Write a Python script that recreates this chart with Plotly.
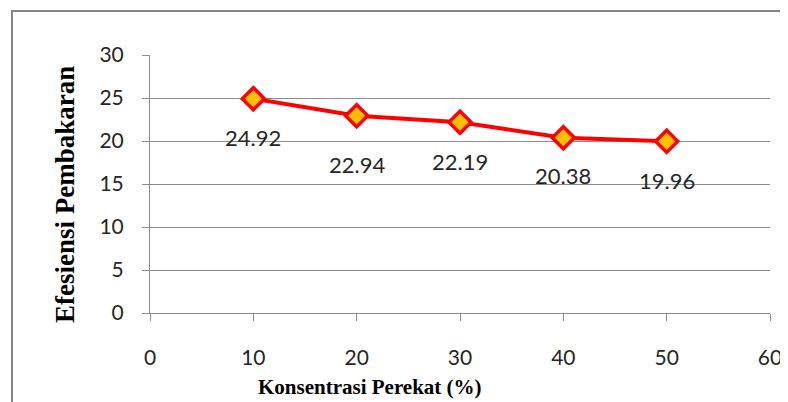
import plotly.graph_objects as go

konsentrasi = [10, 20, 30, 40, 50]
efisiensi = [24.92, 22.94, 22.19, 20.38, 19.96]
label_teks = ["24.92", "22.94", "22.19", "20.38", "19.96"]
x_ticks = [0, 10, 20, 30, 40, 50, 60]
y_ticks = [0, 5, 10, 15, 20, 25, 30]

x_title = "Konsentrasi Perekat (%)"
y_title = "Efesiensi Pembakaran"

# style: vertical offset (px) of each data label below its point
label_shift = [-39, -49, -39, -38, -39]

OFF = 8  # page body margin
W, H = 788 - OFF, 402 - OFF
# plot area in page pixels: x 150..770, y 55..313
L, R = 150 - OFF, (788 - OFF) - (770 - OFF)
T, B = 55 - OFF, (402 - OFF) - (313 - OFF)
pw, ph = W - L - R, H - T - B

def px_x(p):
    return (p - OFF - L) / pw

def px_y(p):
    return (H - B - (p - OFF)) / ph

grid = "#8c8c8c"
tick_font = dict(family="Lato, 'Open Sans', sans-serif", size=21, color="#262626")
label_font = dict(family="Lato, 'Open Sans', sans-serif", size=22, color="#262626")

fig = go.Figure()
fig.add_trace(go.Scatter(
    x=konsentrasi, y=efisiensi, mode="lines+markers",
    line=dict(color="#ff0000", width=4),
    marker=dict(symbol="diamond", size=17, color="#ffc000",
                line=dict(color="#ff0000", width=3.5)),
    showlegend=False, hoverinfo="x+y",
))

for xv, yv, t, s in zip(konsentrasi, efisiensi, label_teks, label_shift):
    fig.add_annotation(x=xv, y=yv, text=t, showarrow=False, xanchor="center",
                       yanchor="middle", yshift=s, font=label_font)

fig.add_annotation(xref="paper", yref="paper", x=px_x(370), y=px_y(387),
                   text=x_title, showarrow=False, xanchor="center", yanchor="middle",
                   font=dict(family="'Liberation Serif', 'Times New Roman', serif",
                             size=21, color="#000000", weight="bold"))
fig.add_annotation(xref="paper", yref="paper", x=px_x(65), y=px_y(195),
                   text=y_title, showarrow=False, xanchor="center", yanchor="middle",
                   textangle=-90,
                   font=dict(family="'Liberation Serif', 'Times New Roman', serif",
                             size=27, color="#000000", weight="bold"))

# outer chart-area border (top and left edges visible)
fig.add_shape(type="line", xref="paper", yref="paper", x0=px_x(11), x1=px_x(800),
              y0=px_y(11), y1=px_y(11), line=dict(color="#868686", width=2))
fig.add_shape(type="line", xref="paper", yref="paper", x0=px_x(12), x1=px_x(12),
              y0=px_y(10), y1=px_y(410), line=dict(color="#868686", width=2))

fig.update_xaxes(range=[0, 60], tickvals=x_ticks, ticktext=[str(v) for v in x_ticks],
                 showgrid=False, zeroline=False, showline=True, linecolor=grid, linewidth=1,
                 ticks="outside", ticklen=7, tickcolor=grid, tickwidth=1,
                 tickfont=tick_font, ticklabelstandoff=19)
fig.update_yaxes(range=[0, 30], tickvals=y_ticks, ticktext=[str(v) for v in y_ticks],
                 showgrid=True, gridcolor=grid, gridwidth=1, zeroline=False,
                 showline=True, linecolor=grid, linewidth=1,
                 ticks="outside", ticklen=7, tickcolor=grid, tickwidth=1,
                 tickfont=tick_font, ticklabelstandoff=14)

fig.update_layout(width=W, height=H, margin=dict(l=L, r=R, t=T, b=B, autoexpand=False),
                  paper_bgcolor="white", plot_bgcolor="white")

fig.write_html("out.html")
